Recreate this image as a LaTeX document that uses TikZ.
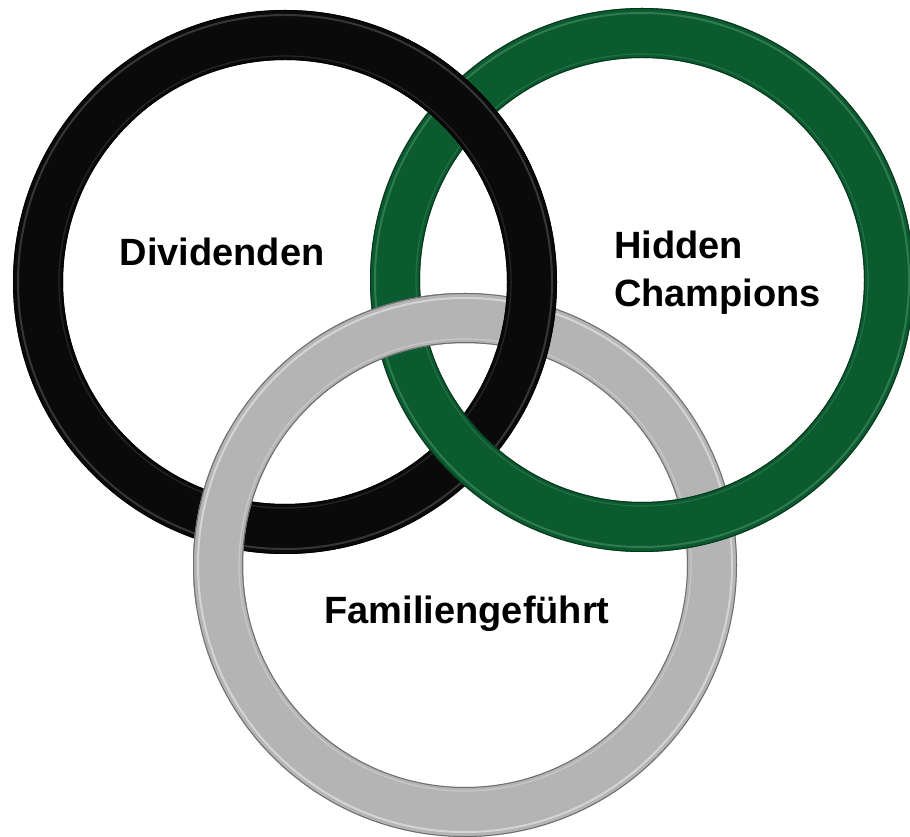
\documentclass[tikz,border=0pt]{standalone}
\usepackage{fontspec}
\setmainfont{Liberation Sans}
\definecolor{ringblack}{HTML}{0A0A0A}
\definecolor{blackhi}{HTML}{4A4A4A}
\definecolor{ringgreen}{HTML}{0C5A30}
\definecolor{greenhi}{HTML}{3E8A5E}
\definecolor{greenedge}{HTML}{06361C}
\definecolor{ringgray}{HTML}{B4B4B4}
\definecolor{grayhi}{HTML}{E2E2E2}
\definecolor{grayedge}{HTML}{6E6E6E}
\newcommand\myring[4]{%
  \fill[#2, even odd rule] #1 circle[radius=272pt] #1 circle[radius=222pt];
  \draw[#3, line width=2pt, opacity=0.7] #1 circle[radius=267pt];
  \draw[#3, line width=1.2pt, opacity=0.45] #1 circle[radius=226pt];
  \draw[#4, line width=1pt] #1 circle[radius=271.5pt] #1 circle[radius=222.5pt];
}
\tikzset{label text/.style={font=\bfseries\fontsize{38}{48}\selectfont, text=black, inner sep=0pt}}
\begin{document}
\begin{tikzpicture}[x=1pt,y=1pt]
\useasboundingbox (0,0) rectangle (910,836);
\clip (0,0) rectangle (910,836);
\coordinate (B) at (285,554);
\coordinate (G) at (642,556);
\coordinate (Y) at (465,271);
\coordinate (xBG) at (463,726);
\coordinate (xBYl) at (222,315);
\coordinate (xGYl) at (399,509);
% base order: gray, black, green
\myring{(Y)}{ringgray}{grayhi}{grayedge}
\myring{(B)}{ringblack}{blackhi}{black}
\myring{(G)}{ringgreen}{greenhi}{greenedge}
% black over green at top crossing
\begin{scope}
  \clip (xBG) circle[radius=90pt];
  \myring{(B)}{ringblack}{blackhi}{black}
\end{scope}
% gray over black at lower-left crossing
\begin{scope}
  \clip (xBYl) circle[radius=90pt];
  \myring{(Y)}{ringgray}{grayhi}{grayedge}
\end{scope}
% gray over green at upper-left crossing
\begin{scope}
  \clip (xGYl) circle[radius=90pt];
  \myring{(Y)}{ringgray}{grayhi}{grayedge}
\end{scope}
\node[label text] (div) at (222,584) {Dividenden};
\node[label text, align=left, anchor=west] (hc) at (614,563) {Hidden\\Champions};
\node[label text] (fam) at (467,222) {Familiengeführt};
\end{tikzpicture}
\end{document}
